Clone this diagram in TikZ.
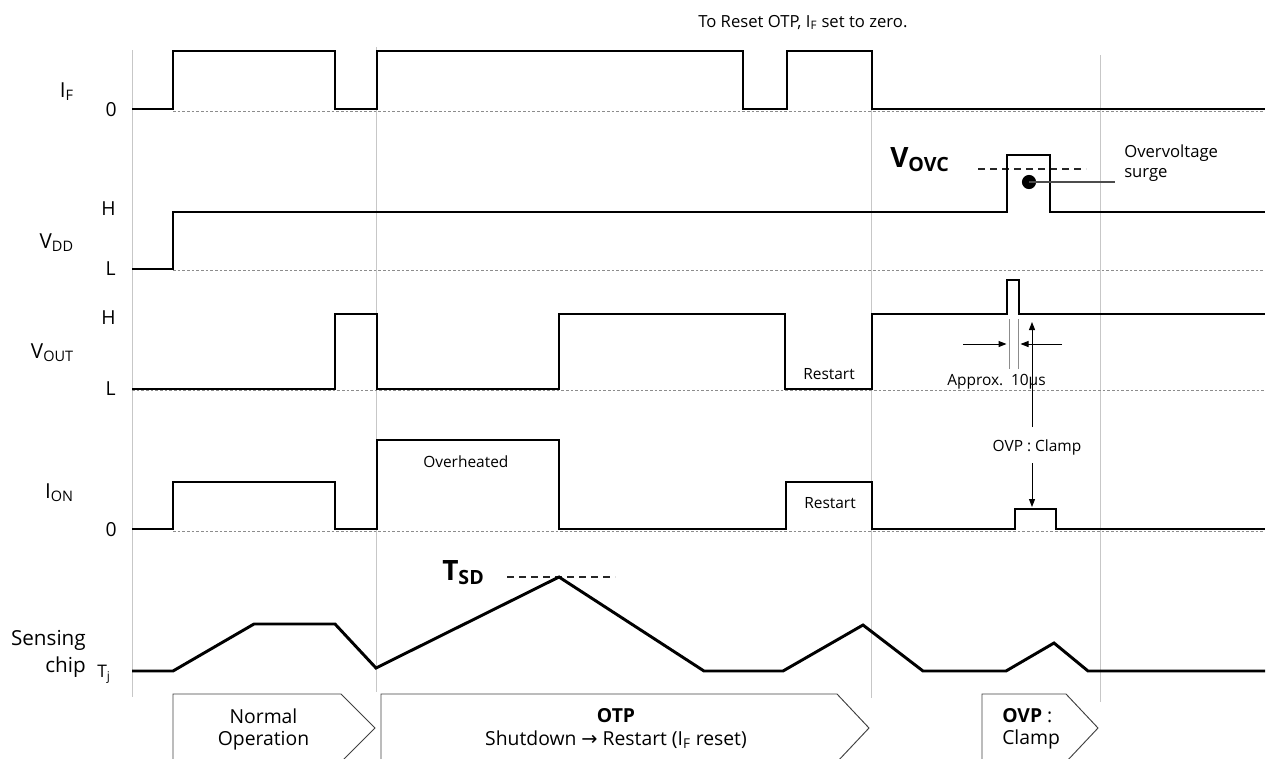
\documentclass[tikz,border=0pt]{standalone}
\usepackage{fontspec}
\setmainfont{Open Sans}
\newfontfamily\arrowfont{DejaVu Sans}
\usetikzlibrary{arrows.meta}

\begin{document}
\begin{tikzpicture}[x=0.75pt,y=-0.75pt,
  sig/.style={line width=2.2pt, line join=miter},
  gridline/.style={line width=0.6pt, black!22},
  lvl/.style={line width=0.6pt, black!45, dash pattern=on 2pt off 1.5pt},
  refline/.style={line width=0.8pt, black!85, dash pattern=on 5pt off 4pt},
  phase/.style={line width=0.7pt, black!75},
  thin/.style={line width=0.6pt, black!45},
  arr/.style={line width=0.75pt, -{Triangle[length=6pt,width=4.5pt]}},
  axis/.style={inner sep=0pt, font=\fontsize{15.5}{18}\selectfont},
  lvlname/.style={inner sep=0pt, font=\fontsize{14.5}{18}\selectfont},
  note/.style={inner sep=0pt, font=\fontsize{11.6}{14}\selectfont},
  bignote/.style={inner sep=0pt, font=\fontsize{12.5}{15}\selectfont},
  big/.style={inner sep=0pt, font=\fontsize{21}{24}\selectfont\bfseries},
  phasetext/.style={inner sep=0pt, font=\fontsize{14.5}{17}\selectfont, align=center},
]
\useasboundingbox (0,0) rectangle (1271,758);

% time markers
\draw[gridline] (132,50) -- (132,697);
\draw[gridline] (376,47) -- (376,692);
\draw[gridline] (871,50) -- (871,698);
\draw[gridline] (1100,55) -- (1100,702);

% reference levels
\draw[lvl] (173,111) -- (1265,111);
\draw[lvl] (173,270) -- (1265,270);
\draw[lvl] (132,390) -- (1265,390);
\draw[lvl] (173,531) -- (1265,531);

% threshold lines
\draw[refline] (978,169) -- (1086,169);
\draw[refline] (507,577) -- (615,577);

% waveforms
\draw[sig] (132,109) -| (173,51) -| (335,109) -| (377,51) -| (743,109) -| (787,51) -| (872,109) -- (1265,109);
\draw[sig] (132,269) -| (173,212) -| (1007,155) -| (1050,212) -- (1265,212);
\draw[sig] (132,389) -| (335,314) -| (377,389) -| (559,314) -| (785,389) -| (872,314) -| (1007,280) -| (1019,314) -- (1265,314);
\draw[sig] (132,529) -| (173,482) -| (335,529) -| (377,440) -| (559,529) -| (786,482) -| (872,529) -| (1015,509) -| (1056,529) -- (1265,529);
\draw[sig] (132,671) -- (173,671) -- (254,624) -- (335,624) -- (376,668) -- (559,577) -- (704,671) -- (783,671) -- (863,625) -- (923,671) -- (1006,671) -- (1054,643) -- (1088,671) -- (1265,671);

% signal names
\node[axis, anchor=base east] (nIF) at (74,97) {I\textsubscript{F}};
\node[lvlname, anchor=east] (z1) at (117,110) {0};
\node[lvlname, anchor=east] (h1) at (116,208.5) {H};
\node[axis, anchor=base east] (nVDD) at (74,248) {V\textsubscript{DD}};
\node[lvlname, anchor=east] (l1) at (116,269) {L};
\node[lvlname, anchor=east] (h2) at (116,318) {H};
\node[axis, anchor=base east] (nVOUT) at (74,358) {V\textsubscript{OUT}};
\node[lvlname, anchor=east] (l2) at (116,389) {L};
\node[axis, anchor=base east] (nION) at (74,498) {I\textsubscript{ON}};
\node[lvlname, anchor=east] (z2) at (117,530) {0};
\node[axis, anchor=base east] (nS1) at (86,645) {Sensing};
\node[axis, anchor=base east] (nS2) at (86,672) {chip};
\node[note, anchor=base west, font=\fontsize{13}{15}\selectfont] (nTj) at (97,677) {T\textsubscript{j}};

% annotations
\node[bignote, anchor=base west] (reset) at (698,27) {To Reset OTP, I\textsubscript{F} set to zero.};
\node[big, anchor=base west] (vovc) at (890,167) {V\textsubscript{OVC}};
\node[big, anchor=base west] (tsd) at (442,580) {T\textsubscript{SD}};
\node[bignote, anchor=base west, align=left] (surge) at (1124,177) {Overvoltage\\surge};
\fill (1029,182) coordinate (dot) circle[radius=5.3pt];
\coordinate (lead) at (1115,182);
\draw[line width=0.8pt, black!70] (dot) -- (lead);
\node[note, anchor=base west] (rs1) at (803,379) {Restart};
\node[note, anchor=base west] (oh) at (423,467) {Overheated};
\node[note, anchor=base west] (rs2) at (804,508) {Restart};

% surge width
\draw[thin] (1009,319) -- (1009,369);
\draw[thin] (1018,319) -- (1018,369);
\coordinate (wl) at (963,344);
\coordinate (wr) at (1062,344);
\draw[arr] (wl) -- (1006.5,344);
\draw[arr] (wr) -- (1020.5,344);
\node[note, anchor=base west] (approx) at (947,385) {Approx.\enspace10µs};

% clamp
\node[note, anchor=base] (clamp) at (1037,451) {OVP : Clamp};
\coordinate (cup) at (1032,322);
\coordinate (cdown) at (1032,507);
\draw[arr] (cup |- 0,427) -- (cup);
\draw[arr] (cdown |- 0,463) -- (cdown);

% operating phases
\draw[phase] (173,694) -- (341,694) -- (375,728) -- (341,762) -- (173,762) -- cycle;
\draw[phase] (381,694) -- (837,694) -- (869,728) -- (837,762) -- (381,762) -- cycle;
\draw[phase] (982,694) -- (1066,694) -- (1098,728) -- (1066,762) -- (982,762) -- cycle;
\node[phasetext, anchor=base] (p1a) at (263.5,723) {Normal};
\node[phasetext, anchor=base] (p1b) at (263.5,745) {Operation};
\node[phasetext, anchor=base] (p2a) at (616,722) {\bfseries OTP};
\node[phasetext, anchor=base] (p2b) at (616,745) {Shutdown {\arrowfont →} Restart (I\textsubscript{F} reset)};
\node[phasetext, anchor=base west] (p3a) at (1002,722) {\textbf{OVP} :};
\node[phasetext, anchor=base west] (p3b) at (1002,744) {Clamp};
\end{tikzpicture}
\end{document}
